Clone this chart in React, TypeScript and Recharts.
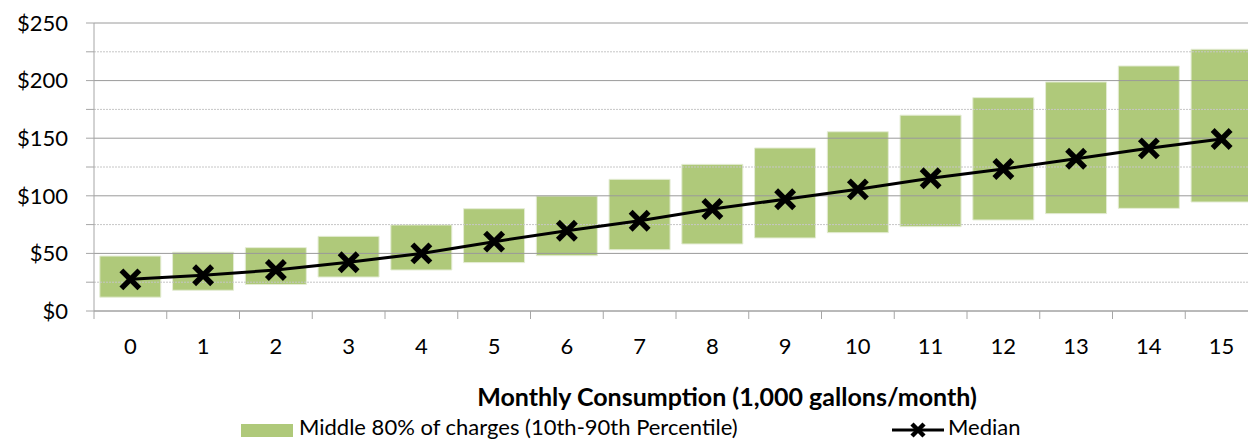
import { Bar, ComposedChart, Line, ReferenceLine, XAxis, YAxis } from "recharts";

// Monthly consumption in 1,000 gallons
const CONSUMPTION = ["0", "1", "2", "3", "4", "5", "6", "7", "8", "9", "10", "11", "12", "13", "14", "15"];
// 10th / 90th percentile of monthly charges ($)
const P10 = [12, 18, 23, 29.5, 35.6, 42, 48, 53.2, 58.2, 63.4, 68, 73.2, 79, 84.5, 89.1, 94.6];
const P90 = [47.7, 51, 55, 64.8, 74.7, 88.8, 99.8, 114.3, 127.3, 141.5, 155.6, 170, 185.2, 198.8, 212.7, 227.2];
const MEDIAN = [27.5, 31, 35.6, 42.3, 50, 60.2, 69.7, 78.4, 88.5, 97, 105.6, 115.2, 123.3, 132.2, 141.2, 149.3];

const Y_TICKS = [0, 25, 50, 75, 100, 125, 150, 175, 200, 225, 250];
const MAJOR_GRID = [0, 50, 100, 150, 200, 250];
const MINOR_GRID = [25, 75, 125, 175, 225];

const BAR_LABEL = "Middle 80% of charges (10th-90th Percentile)";
const LINE_LABEL = "Median";
const X_TITLE = "Monthly Consumption (1,000 gallons/month)";

const FONT = "Lato, 'Open Sans', sans-serif";
const AXIS = "#a6a6a6";
const GREEN = "#9bbb59";

const CHART_W = 1270;
const CHART_H = 440;
const Y_AXIS_W = 94;
const MARGIN = { top: 23, right: 12, left: 0, bottom: 0 };
const BAND = (CHART_W - MARGIN.right - Y_AXIS_W) / CONSUMPTION.length;

const data = CONSUMPTION.map((x, i) => ({
  x,
  range: [P10[i], P90[i]],
  median: MEDIAN[i],
}));

function CategoryTick({ x, y, payload }: any) {
  const edge = x - BAND / 2;
  return (
    <g>
      <line x1={edge} x2={edge} y1={y} y2={y + 8} stroke={AXIS} />
      <text x={x} y={y + 43} textAnchor="middle" fontSize={22} fontFamily={FONT} fill="#000">
        {payload.value}
      </text>
    </g>
  );
}

function XMark({ cx, cy, size = 9, width = 5.5 }: any) {
  if (cx == null || cy == null) return null;
  return (
    <g>
      <line x1={cx - size} y1={cy - size} x2={cx + size} y2={cy + size} stroke="#000" strokeWidth={width} />
      <line x1={cx - size} y1={cy + size} x2={cx + size} y2={cy - size} stroke="#000" strokeWidth={width} />
    </g>
  );
}

function XTitle({ viewBox }: any) {
  const { x, y, width } = viewBox;
  return (
    <text
      x={x + width / 2 + 51}
      y={y + 95}
      textAnchor="middle"
      fontSize={25}
      fontWeight="bold"
      fontFamily={FONT}
      fill="#000"
    >
      {X_TITLE}
    </text>
  );
}

export default function App() {
  return (
    <div
      style={{
        position: "fixed",
        left: 0,
        top: 0,
        width: 1248,
        height: 440,
        overflow: "hidden",
        background: "#fff",
        fontFamily: FONT,
      }}
    >
      <ComposedChart width={CHART_W} height={CHART_H} data={data} margin={MARGIN} barCategoryGap="8%">
        {MINOR_GRID.map((v) => (
          <ReferenceLine key={`m${v}`} y={v} stroke="#c6c6c6" strokeDasharray="2 1" />
        ))}
        {MAJOR_GRID.map((v) => (
          <ReferenceLine key={`M${v}`} y={v} stroke="#9a9a9a" />
        ))}
        <XAxis
          dataKey="x"
          height={CHART_H - 311}
          axisLine={{ stroke: AXIS }}
          tickLine={false}
          tickSize={0}
          tickMargin={0}
          interval={0}
          tick={<CategoryTick />}
          label={<XTitle />}
        />
        <YAxis
          width={Y_AXIS_W}
          domain={[0, 250]}
          ticks={Y_TICKS}
          interval={0}
          tickSize={8}
          tickMargin={18}
          axisLine={{ stroke: AXIS }}
          tickLine={{ stroke: AXIS }}
          tickFormatter={(v: number) => (v % 50 === 0 ? `$${v}` : "")}
          tick={{ fontSize: 22, fontFamily: FONT, fill: "#000" }}
        />
        <Bar
          dataKey="range"
          name={BAR_LABEL}
          fill={GREEN}
          fillOpacity={0.8}
          stroke="#e4ecd4"
          strokeWidth={1}
          isAnimationActive={false}
        />
        <Line
          dataKey="median"
          name={LINE_LABEL}
          type="linear"
          stroke="#000"
          strokeWidth={3}
          dot={(p: any) => <XMark key={p.index} cx={p.cx} cy={p.cy} />}
          activeDot={false}
          isAnimationActive={false}
        />
      </ComposedChart>
      <svg style={{ position: "absolute", left: 0, top: 410 }} width={1248} height={30}>
        <rect x={241} y={14} width={52} height={13} fill={GREEN} fillOpacity={0.8} />
        <text x={299} y={25} fontSize={22} fontFamily={FONT} fill="#000">
          {BAR_LABEL}
        </text>
        <line x1={892} x2={944} y1={20} y2={20} stroke="#000" strokeWidth={3} />
        <XMark cx={918} cy={20} size={6} width={4.5} />
        <text x={948} y={25} fontSize={22} fontFamily={FONT} fill="#000">
          {LINE_LABEL}
        </text>
      </svg>
    </div>
  );
}
